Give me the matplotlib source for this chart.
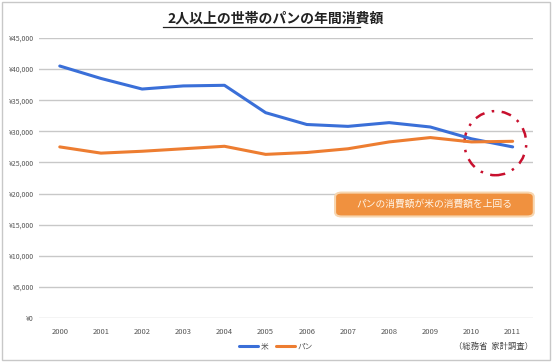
import matplotlib
matplotlib.use("Agg")
import matplotlib.pyplot as plt
from matplotlib.patches import Ellipse, FancyBboxPatch, Rectangle
from matplotlib.ticker import FuncFormatter

plt.rcParams['font.family'] = ['Noto Sans CJK JP', 'DejaVu Sans']

years = ['2000', '2001', '2002', '2003', '2004', '2005', '2006', '2007', '2008', '2009', '2010', '2011']
rice = [40500, 38500, 36800, 37300, 37400, 33000, 31100, 30800, 31400, 30700, 28800, 27500]
bread = [27500, 26500, 26800, 27200, 27600, 26300, 26600, 27200, 28300, 29000, 28300, 28400]
series_names = ['米', 'パン']
title = '2人以上の世帯のパンの年間消費額'
note = 'パンの消費額が米の消費額を上回る'
source = '（総務省  家計調査）'

fig = plt.figure(figsize=(5.52, 3.62), dpi=100)
fig.patch.set_facecolor('white')
fig.add_artist(Rectangle((0.004, 0.006), 0.992, 0.988, transform=fig.transFigure,
                         fill=False, edgecolor='#c8c8c8', linewidth=1.0))

ax = fig.add_axes([0.071, 0.1215, 0.895, 0.7735])
x = list(range(len(years)))
l1, = ax.plot(x, rice, color='#3a6fd8', linewidth=2.2, solid_capstyle='round', label=series_names[0])
l2, = ax.plot(x, bread, color='#ed7d31', linewidth=2.2, solid_capstyle='round', label=series_names[1])

ax.set_xlim(-0.5, len(years) - 0.5)
ax.set_ylim(0, 45000)
ax.set_yticks(range(0, 45001, 5000))
ax.yaxis.set_major_formatter(FuncFormatter(lambda v, p: '¥{:,}'.format(int(v))))
ax.set_xticks(x)
ax.set_xticklabels(years)
ax.grid(axis='y', color='#c8c8c8', linewidth=1.0)
ax.set_axisbelow(True)
for s in ax.spines.values():
    s.set_visible(False)
ax.tick_params(axis='y', length=0, labelsize=5, colors='#555555', pad=4)
ax.tick_params(axis='x', length=0, labelsize=5.5, colors='#555555', pad=7)

# highlight ellipse
ell = Ellipse((10.58, 28100), width=1.5, height=10300, fill=False,
              edgecolor='#c8102e', linewidth=1.8, linestyle=(0, (4, 3, 1, 3)))
ax.add_patch(ell)

# annotation box
box = FancyBboxPatch((0.607, 0.402), 0.360, 0.066, transform=fig.transFigure,
                     boxstyle='round,pad=0.0,rounding_size=0.012',
                     facecolor='#f0913f', edgecolor='#f7d6b0', linewidth=1.5)
fig.add_artist(box)
fig.text(0.787, 0.436, note, ha='center', va='center', fontsize=7, color='#fff6ea')

# title
fig.text(0.5, 0.948, title, ha='center', va='center', fontsize=10, fontweight='bold', color='#222222')
fig.add_artist(plt.Line2D([0.296, 0.652], [0.926, 0.926], transform=fig.transFigure,
                          color='#222222', linewidth=0.9))

leg = fig.legend(handles=[l1, l2], loc='center', bbox_to_anchor=(0.5, 0.042), ncol=2,
                 frameon=False, fontsize=5.5, handlelength=2.5, columnspacing=1.0,
                 handletextpad=0.3, labelcolor='#555555')

fig.text(0.965, 0.042, source, ha='right', va='center', fontsize=6, color='#444444')

fig.savefig('out.png', dpi=100)
